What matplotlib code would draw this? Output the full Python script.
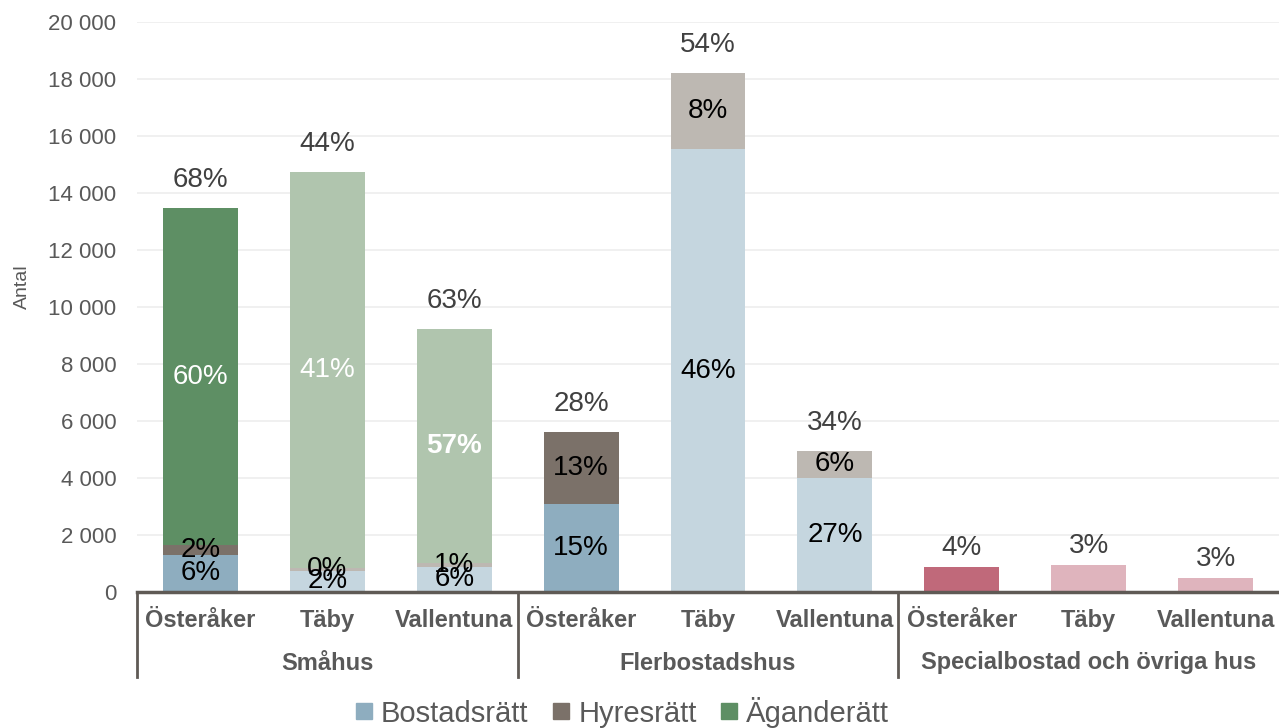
import matplotlib.pyplot as plt
import numpy as np
from matplotlib.lines import Line2D
from matplotlib.transforms import blended_transform_factory

plt.rcParams["font.family"] = ["Liberation Sans", "DejaVu Sans"]

# data
kommuner = ["Österåker", "Täby", "Vallentuna"] * 3
hustyper = ["Småhus", "Flerbostadshus", "Specialbostad och övriga hus"]
bostadsratt = [1300, 740, 890, 3090, 15540, 4000, 0, 0, 0]
hyresratt = [350, 100, 130, 2520, 2670, 950, 0, 0, 0]
aganderatt = [11820, 13900, 8210, 0, 0, 0, 0, 0, 0]
special = [0, 0, 0, 0, 0, 0, 880, 950, 490]
bostad_pct = ["6%", "2%", "6%", "15%", "46%", "27%", "", "", ""]
hyres_pct = ["2%", "0%", "1%", "13%", "8%", "6%", "", "", ""]
agande_pct = ["60%", "41%", "57%", "", "", "", "", "", ""]
total_pct = ["68%", "44%", "63%", "28%", "54%", "34%", "4%", "3%", "3%"]

# Österåker mörk, övriga ljusa
dark = [True, False, False] * 3
bostad_col = ["#8EADBF" if d else "#C5D6DF" for d in dark]
hyres_col = ["#7B7169" if d else "#BDB8B2" for d in dark]
agande_col = ["#5E8F64" if d else "#B0C5AE" for d in dark]
special_col = ["#C0697A" if d else "#DFB4BD" for d in dark]

fig = plt.figure(figsize=(12.79, 7.28), dpi=100)
ax = fig.add_axes([137 / 1279, 1 - 592 / 728, 1 - 137 / 1279, 570 / 728])

x = np.arange(len(kommuner))
w = 0.59
b = np.array(bostadsratt)
h = np.array(hyresratt)
a = np.array(aganderatt)
s = np.array(special)
ax.bar(x, b, w, color=bostad_col, zorder=2)
ax.bar(x, h, w, bottom=b, color=hyres_col, zorder=2)
ax.bar(x, a, w, bottom=b + h, color=agande_col, zorder=2)
ax.bar(x, s, w, color=special_col, zorder=2)

lab = dict(fontsize=20, ha="center", va="center", zorder=3)
for i in x:
    if bostad_pct[i]:
        ax.text(i, b[i] / 2, bostad_pct[i], color="black", **lab)
    if hyres_pct[i]:
        ax.text(i, b[i] + h[i] / 2, hyres_pct[i], color="black", **lab)
    if agande_pct[i]:
        ax.text(i, b[i] + h[i] + a[i] / 2, agande_pct[i], color="white",
                fontweight="bold" if i == 2 else "normal", **lab)
    top = b[i] + h[i] + a[i] + s[i]
    off = 19 if s[i] else 28
    ax.annotate(total_pct[i], (i, top), xytext=(0, off), textcoords="offset pixels",
                color="#404040", **lab)

ax.set_xlim(-0.5, 8.5)
ax.set_ylim(0, 20000)
ax.set_yticks(np.arange(0, 20001, 2000))
ax.set_yticklabels([f"{v:,}".replace(",", " ") for v in range(0, 20001, 2000)])
ax.tick_params(axis="y", length=0, pad=15, labelsize=16, labelcolor="#595959")
ax.grid(axis="y", color="#EDEDED", linewidth=1.2, zorder=0)
for sp in ["left", "right", "top"]:
    ax.spines[sp].set_visible(False)
ax.spines["bottom"].set_color("#5F5A55")
ax.spines["bottom"].set_linewidth(2.5)
ax.spines["bottom"].set_zorder(4)

ax.set_xticks(x)
ax.set_xticklabels(kommuner, fontsize=17, fontweight="bold", color="#595959")
ax.tick_params(axis="x", length=0, pad=12)

tr = blended_transform_factory(ax.transData, ax.transAxes)
for g, name in enumerate(hustyper):
    ax.text(g * 3 + 1, -71 / 570, name, transform=tr, ha="center", va="center",
            fontsize=17, fontweight="bold", color="#595959")
for xs in [-0.5, 2.5, 5.5]:
    ax.plot([xs, xs], [0, -85 / 570], transform=tr, color="#5F5A55",
            linewidth=2, clip_on=False)

fig.text(22 / 1279, 1 - 287 / 728, "Antal", rotation=90, ha="center", va="center",
         fontsize=14, color="#595959")

handles = [Line2D([], [], marker="s", linestyle="", markersize=12, color=c)
           for c in ["#8EADBF", "#7B7169", "#5E8F64"]]
fig.legend(handles, ["Bostadsrätt", "Hyresrätt", "Äganderätt"], loc="center",
           bbox_to_anchor=(622 / 1279, 1 - 712 / 728), ncol=3, frameon=False,
           fontsize=21, handlelength=0.6, handletextpad=0.3, columnspacing=0.8,
           labelcolor="#595959")

fig.savefig("out.png", dpi=100)
